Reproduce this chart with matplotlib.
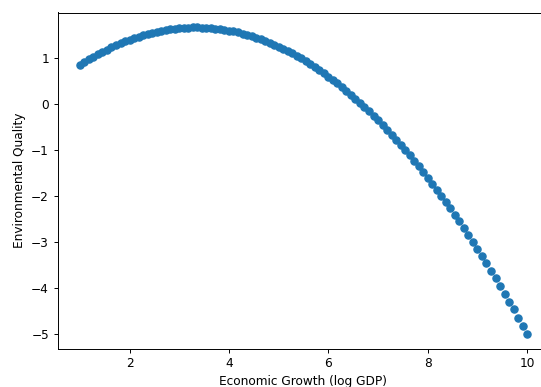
import matplotlib
matplotlib.use("Agg")
import matplotlib.pyplot as plt

x_vals = [1.0000, 1.0909, 1.1818, 1.2727, 1.3636, 1.4545, 1.5455, 1.6364, 1.7273, 1.8182,
          1.9091, 2.0000, 2.0909, 2.1818, 2.2727, 2.3636, 2.4545, 2.5455, 2.6364, 2.7273,
          2.8182, 2.9091, 3.0000, 3.0909, 3.1818, 3.2727, 3.3636, 3.4545, 3.5455, 3.6364,
          3.7273, 3.8182, 3.9091, 4.0000, 4.0909, 4.1818, 4.2727, 4.3636, 4.4545, 4.5455,
          4.6364, 4.7273, 4.8182, 4.9091, 5.0000, 5.0909, 5.1818, 5.2727, 5.3636, 5.4545,
          5.5455, 5.6364, 5.7273, 5.8182, 5.9091, 6.0000, 6.0909, 6.1818, 6.2727, 6.3636,
          6.4545, 6.5455, 6.6364, 6.7273, 6.8182, 6.9091, 7.0000, 7.0909, 7.1818, 7.2727,
          7.3636, 7.4545, 7.5455, 7.6364, 7.7273, 7.8182, 7.9091, 8.0000, 8.0909, 8.1818,
          8.2727, 8.3636, 8.4545, 8.5455, 8.6364, 8.7273, 8.8182, 8.9091, 9.0000, 9.0909,
          9.1818, 9.2727, 9.3636, 9.4545, 9.5455, 9.6364, 9.7273, 9.8182, 9.9091, 10.0000]

y_vals = [0.850, 0.912, 0.972, 1.030, 1.085, 1.137, 1.187, 1.235, 1.280, 1.322,
          1.362, 1.400, 1.435, 1.468, 1.498, 1.526, 1.551, 1.574, 1.594, 1.612,
          1.627, 1.640, 1.650, 1.658, 1.663, 1.666, 1.667, 1.664, 1.660, 1.653,
          1.643, 1.631, 1.617, 1.600, 1.581, 1.559, 1.534, 1.507, 1.478, 1.446,
          1.412, 1.375, 1.336, 1.294, 1.250, 1.203, 1.154, 1.102, 1.048, 0.992,
          0.933, 0.871, 0.807, 0.741, 0.672, 0.600, 0.526, 0.450, 0.371, 0.289,
          0.205, 0.119, 0.030, -0.061, -0.155, -0.251, -0.350, -0.451, -0.555, -0.661,
          -0.770, -0.881, -0.995, -1.111, -1.229, -1.350, -1.474, -1.600, -1.729, -1.860,
          -1.993, -2.129, -2.267, -2.408, -2.552, -2.698, -2.846, -2.997, -3.150, -3.306,
          -3.464, -3.625, -3.788, -3.954, -4.122, -4.293, -4.466, -4.641, -4.819, -5.000]

x_label = "Economic Growth (log GDP)"
y_label = "Environmental Quality"

k = 0.87
plt.rcParams.update({
    "font.size": 10 * k,
    "axes.linewidth": 0.8 * k,
    "xtick.major.size": 3.5 * k,
    "ytick.major.size": 3.5 * k,
    "xtick.major.width": 0.8 * k,
    "ytick.major.width": 0.8 * k,
    "xtick.major.pad": 3.5 * k,
    "ytick.major.pad": 3.5 * k,
    "axes.labelpad": 4 * k,
})

W, H = 541, 387
fig = plt.figure(figsize=(W / 100, H / 100), dpi=100)
ax = fig.add_axes([57.5 / W, 1 - 349 / H, 492 / W, 336.5 / H])
ax.scatter(x_vals, y_vals, color="#1f77b4", s=36 * k * k, linewidths=1.0 * k)
ax.set_xlim(0.55, 10.45)
ax.set_ylim(-5.325, 1.992)
ax.set_xlabel(x_label)
ax.set_ylabel(y_label)
fig.savefig("out.png", dpi=100)
